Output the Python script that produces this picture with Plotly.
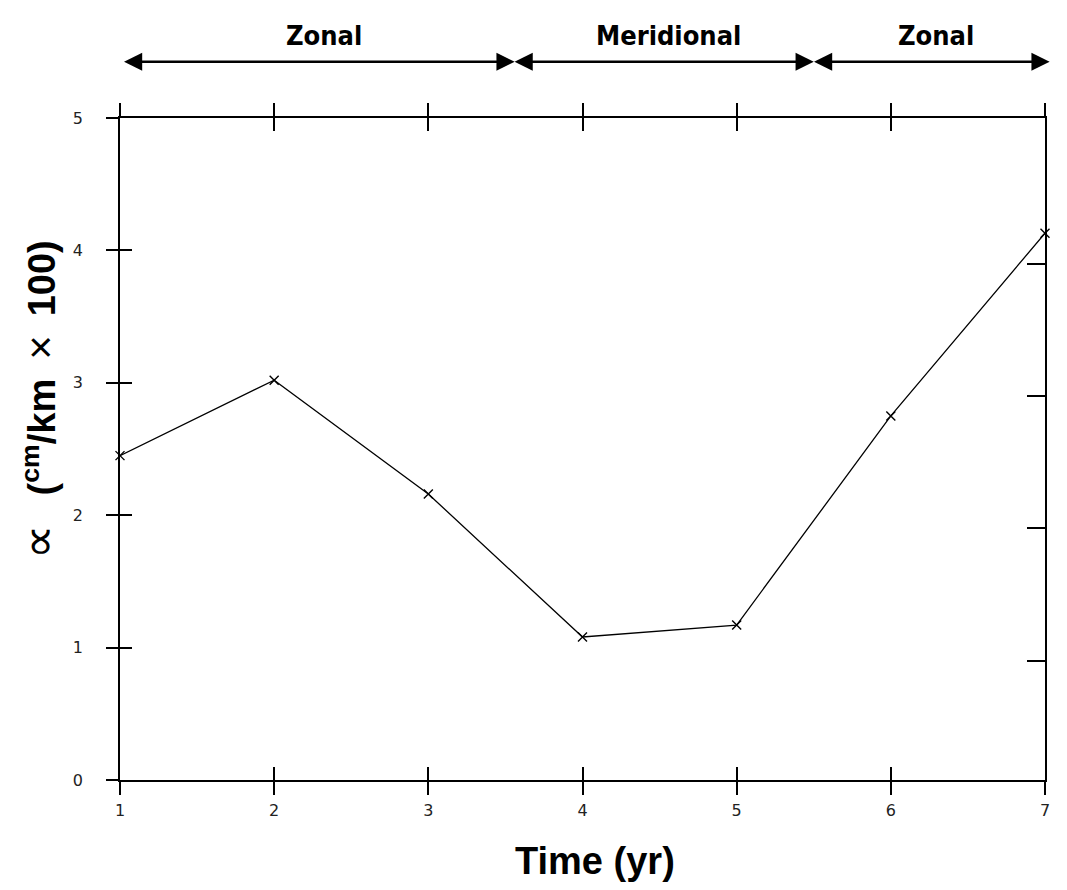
import plotly.graph_objects as go

years = [1, 2, 3, 4, 5, 6, 7]
alpha = [2.45, 3.02, 2.16, 1.08, 1.17, 2.75, 4.13]
x_ticks = [1, 2, 3, 4, 5, 6, 7]
y_ticks = [0, 1, 2, 3, 4, 5]
right_ticks = [0.9, 1.9, 2.9, 3.9]
regimes = ["Zonal", "Meridional", "Zonal"]
regime_bounds = [1.03, 3.56, 5.5, 7.03]
regime_label_x = [2.32, 4.56, 6.29]

X_MIN, X_MAX = 1, 7
W, H = 1051, 874
ML, MR, MT, MB = 112, 9, 110, 102
plot_w = W - ML - MR

fig = go.Figure()
fig.add_trace(go.Scatter(
    x=years, y=alpha, mode="lines+markers",
    line=dict(color="black", width=1.3),
    marker=dict(symbol="x-thin", size=9, line=dict(color="black", width=1.4)),
    showlegend=False, cliponaxis=False,
))

tickfont = dict(family="DejaVu Sans", size=16, color="#222")
common_x = dict(range=[X_MIN, X_MAX], tickvals=x_ticks, showgrid=False, zeroline=False,
                linecolor="black", linewidth=1.5, tickcolor="black", tickwidth=1.5, ticklen=13)
fig.update_layout(
    xaxis=dict(**common_x, ticks="outside", mirror="ticks", showline=True,
               tickfont=tickfont, ticklabelstandoff=2),
    xaxis2=dict(**common_x, ticks="inside", mirror="ticks", showline=False,
                overlaying="x", showticklabels=False, side="bottom"),
    yaxis=dict(range=[0, 5], tickvals=y_ticks, showgrid=False, zeroline=False, showline=True,
               mirror=True, linecolor="black", linewidth=1.5, ticks="outside", ticklen=12,
               tickcolor="black", tickwidth=1.5, tickfont=tickfont, ticklabelstandoff=20),
    yaxis2=dict(range=[0, 5], tickvals=y_ticks, overlaying="y", side="left", ticks="inside",
                ticklen=12, tickcolor="black", tickwidth=1.5, showticklabels=False,
                showgrid=False, zeroline=False, showline=False),
    yaxis3=dict(range=[0, 5], tickvals=right_ticks, overlaying="y", side="right", ticks="inside",
                ticklen=18, tickcolor="black", tickwidth=1.5, showticklabels=False,
                showgrid=False, zeroline=False, showline=False),
    plot_bgcolor="white", paper_bgcolor="white",
    width=W, height=H,
    margin=dict(l=ML, r=MR, t=MT, b=MB),
)
fig.add_trace(go.Scatter(x=[None], y=[None], xaxis="x2", yaxis="y2", showlegend=False, hoverinfo="skip"))
fig.add_trace(go.Scatter(x=[None], y=[None], xaxis="x", yaxis="y3", showlegend=False, hoverinfo="skip"))

def to_paper(v):
    return (v - X_MIN) / (X_MAX - X_MIN)

# axis titles
fig.add_annotation(x=0.513, y=-0.122, xref="paper", yref="paper", showarrow=False,
                   xanchor="center", yanchor="middle",
                   text="<b>Time (yr)</b>",
                   font=dict(family="Liberation Sans", size=38, color="black"))
fig.add_annotation(x=-0.088, y=0.575, xref="paper", yref="paper", showarrow=False, textangle=-90,
                   xanchor="center", yanchor="middle",
                   text="<span style='font-size:48px'>\u221d</span>\u2002 <b>(<sup>cm</sup>/km</b>\u2002"
                        "<span style='font-size:42px'>\u00d7</span>\u2002<b>100)</b>",
                   font=dict(family="Liberation Sans", size=38, color="black"))

label_font = dict(family="DejaVu Sans Condensed", size=27, color="black")
arrow_y = 1.085
for i, name in enumerate(regimes):
    x0, x1 = regime_bounds[i], regime_bounds[i + 1]
    length_px = (to_paper(x1) - to_paper(x0)) * plot_w
    fig.add_annotation(x=to_paper(x1), y=arrow_y, xref="paper", yref="paper",
                       ax=-length_px, ay=0, axref="pixel", ayref="pixel",
                       text="", showarrow=True, arrowhead=2, arrowside="end+start",
                       arrowsize=1.4, arrowwidth=2.6, arrowcolor="black", standoff=0, startstandoff=0)
    fig.add_annotation(x=to_paper(regime_label_x[i]), y=1.124, xref="paper", yref="paper",
                       xanchor="center", yanchor="middle",
                       text="<b>" + name + "</b>", showarrow=False, font=label_font)

fig.write_html("out.html")
